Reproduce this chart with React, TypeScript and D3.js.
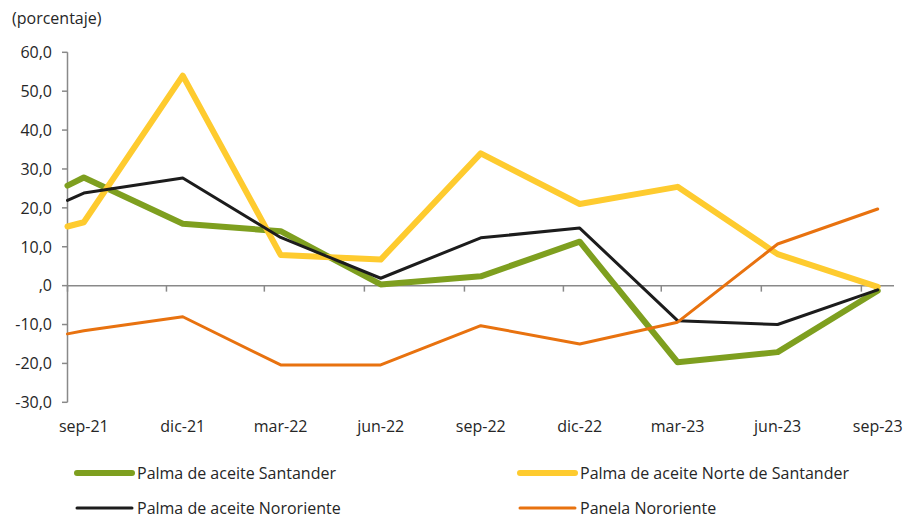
import React from 'react'
import * as d3 from 'd3'

// fechas de los puntos (el primero es el borde del eje)
const pointDates = [
  '2021-09-01', '2021-09-16', '2021-12-16', '2022-03-16', '2022-06-16',
  '2022-09-16', '2022-12-16', '2023-03-16', '2023-06-16', '2023-09-16',
]
const tickDates = [
  '2021-09-01', '2021-12-01', '2022-03-01', '2022-06-01', '2022-09-01',
  '2022-12-01', '2023-03-01', '2023-06-01', '2023-09-01',
]
const tickLabels = ['sep-21', 'dic-21', 'mar-22', 'jun-22', 'sep-22', 'dic-22', 'mar-23', 'jun-23', 'sep-23']
const yTicks = [60, 50, 40, 30, 20, 10, 0, -10, -20, -30]

const santander = [25.7, 27.8, 15.9, 14.0, 0.3, 2.4, 11.3, -19.7, -17.1, -1.3]
const norteSantander = [15.2, 16.3, 54.0, 7.9, 6.7, 34.0, 21.0, 25.4, 8.1, -0.3]
const nororiente = [21.9, 23.8, 27.7, 12.4, 1.9, 12.3, 14.8, -9.0, -10.0, -1.1]
const panela = [-12.4, -11.6, -8.0, -20.4, -20.4, -10.3, -15.0, -9.4, 10.7, 19.7]

const seriesNames = [
  'Palma de aceite Santander',
  'Palma de aceite Norte de Santander',
  'Palma de aceite Nororiente',
  'Panela Nororiente',
]

const WIDTH = 904
const HEIGHT = 519
const FONT = '"Open Sans", "Noto Sans", sans-serif'
const TEXT = '#262626'
const AXIS = '#898989'

const parse = d3.timeParse('%Y-%m-%d')

const fmt = (v: number) => (v === 0 ? ',0' : d3.format('.1f')(v).replace('.', ',').replace('−', '-'))

export default function App() {
  const x = d3
    .scaleTime()
    .domain([parse('2021-09-01')!, parse('2023-10-01')!])
    .range([67.5, 894])

  const y = d3.scaleLinear().domain([-30, 60]).range([402.3, 52.3])

  const series = [
    { name: seriesNames[0], values: santander, color: '#7e9f1f', width: 6 },
    { name: seriesNames[1], values: norteSantander, color: '#fecb2f', width: 6 },
    { name: seriesNames[2], values: nororiente, color: '#1c1c1c', width: 3 },
    { name: seriesNames[3], values: panela, color: '#e8720f', width: 3 },
  ]

  const line = d3
    .line<[Date, number]>()
    .x(d => x(d[0]))
    .y(d => y(d[1]))

  const dates = pointDates.map(d => parse(d)!)
  const y0 = y(0)

  const legend = [
    { s: series[0], lx: 77, ly: 473 },
    { s: series[1], lx: 520, ly: 473 },
    { s: series[2], lx: 77, ly: 508 },
    { s: series[3], lx: 520, ly: 508 },
  ]

  return (
    <svg
      width={WIDTH}
      height={HEIGHT}
      style={{ position: 'absolute', left: 0, top: 0, background: '#fff' }}
      fontFamily={FONT}
    >
      <text x={12} y={24} fontSize={16} fill={TEXT}>
        (porcentaje)
      </text>

      {/* eje y */}
      <line x1={67.5} x2={67.5} y1={y(60)} y2={y(-30)} stroke={AXIS} strokeWidth={1.5} />
      {yTicks.map(t => (
        <g key={t}>
          <line x1={62} x2={67.5} y1={y(t)} y2={y(t)} stroke={AXIS} strokeWidth={1.5} />
          <text x={52} y={y(t)} dy="0.36em" textAnchor="end" fontSize={16} fill={TEXT}>
            {fmt(t)}
          </text>
        </g>
      ))}

      {/* eje x */}
      <line x1={67.5} x2={894} y1={y0} y2={y0} stroke={AXIS} strokeWidth={1.5} />
      {tickDates.map((d, i) => {
        const tx = x(parse(d)!)
        const lx = x(d3.timeDay.offset(parse(d)!, 15))
        return (
          <g key={d}>
            <line x1={tx} x2={tx} y1={y0} y2={y0 + 6} stroke={AXIS} strokeWidth={1.5} />
            <text x={lx} y={432} textAnchor="middle" fontSize={16} fill={TEXT}>
              {tickLabels[i]}
            </text>
          </g>
        )
      })}

      {series.map(s => (
        <path
          key={s.name}
          d={line(s.values.map((v, i) => [dates[i], v] as [Date, number])) || ''}
          fill="none"
          stroke={s.color}
          strokeWidth={s.width}
          strokeLinejoin="round"
          strokeLinecap="round"
        />
      ))}

      {legend.map(({ s, lx, ly }) => (
        <g key={s.name}>
          <line x1={lx} x2={lx + 55} y1={ly} y2={ly} stroke={s.color} strokeWidth={s.width} strokeLinecap="round" />
          <text x={lx + 60} y={ly} dy="0.36em" fontSize={16} fill={TEXT}>
            {s.name}
          </text>
        </g>
      ))}
    </svg>
  )
}
